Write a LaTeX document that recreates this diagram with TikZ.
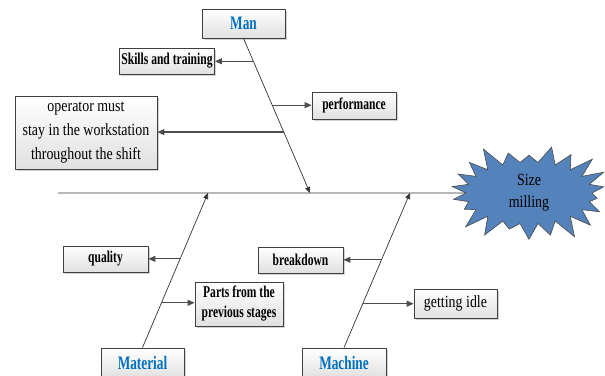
\documentclass[tikz,border=0pt]{standalone}
\usepackage{fontspec}
\setmainfont{Liberation Serif}[FakeStretch=0.82]
\newfontfamily\narrowfont{Liberation Serif}[FakeStretch=0.7]
\usetikzlibrary{shapes.symbols, arrows.meta, calc, shadows}
\definecolor{catblue}{RGB}{0,112,192}
\definecolor{headfill}{RGB}{84,130,186}

\begin{document}
\begin{tikzpicture}[
    x=1pt, y=-1pt,
    cause/.style={rectangle, draw=black!75, line width=0.8pt, top color=white, bottom color=black!12,
      drop shadow={shadow xshift=1.5pt, shadow yshift=-1.5pt, fill=black!35}, inner sep=2pt, align=center},
    group/.style={cause, font=\narrowfont\fontsize{19}{22}\selectfont\bfseries, text=catblue, minimum width=83pt, minimum height=30pt},
    factor/.style={cause, font=\narrowfont\fontsize{16.5}{20}\selectfont\bfseries},
    note/.style={cause, font=\fontsize{17}{24}\selectfont},
    bone/.style={-{Triangle[length=6pt,width=5pt]}, line width=0.7pt, draw=black!80},
    twig/.style={-{Triangle[length=7pt,width=6pt]}, line width=1.2pt, draw=black!70}
  ]
  \clip (0,0) rectangle (605,375);

  % ---- Kopf und Hauptgraete ----
  \coordinate (tail) at (58,193);
  \node[starburst, starburst points=22, starburst point height=22pt, random starburst=3,
    fill=headfill, draw=black!70, line width=0.6pt, minimum width=170pt, minimum height=94pt,
    font=\fontsize{17}{22}\selectfont, align=center] (head) at (529,193) {Size\\milling};
  \draw[line width=0.8pt, black!80] (tail) -- (head.west);

  % ---- Man ----
  \node[group, minimum width=83pt, minimum height=29pt] (man) at (243.5,23.5) {Man};
  \coordinate (manhit) at (310,193);
  \draw[bone] (man.south) -- (manhit);
  \node[factor, minimum width=92pt, minimum height=26pt] (skills) at (167,61) {Skills and training};
  \node[factor, minimum width=84pt, minimum height=27pt] (perf) at (354,105.5) {performance};
  \node[note, minimum width=142pt, minimum height=73pt] (operator) at (86,132.5)
    {operator must\\stay in the workstation\\throughout the shift};
  \coordinate (man1) at ($(man.south)!0.148!(manhit)$);
  \coordinate (man2) at ($(man.south)!0.432!(manhit)$);
  \coordinate (man3) at ($(man.south)!0.606!(manhit)$);
  \draw[twig] (man1) -- (man1 -| skills.east);
  \draw[twig] (man2) -- (man2 -| perf.west);
  \draw[twig] (man3) -- (man3 -| operator.east);

  % ---- Material ----
  \node[group] (material) at (142.5,363) {Material};
  \coordinate (mathit) at (208,193);
  \draw[bone] (material.north) -- (mathit);
  \node[factor, minimum width=85pt, minimum height=26pt] (quality) at (105.5,259) {quality};
  \node[factor, minimum width=88pt, minimum height=44pt] (parts) at (239,304) {Parts from the\\previous stages};
  \coordinate (mat1) at ($(material.north)!0.574!(mathit)$);
  \coordinate (mat2) at ($(material.north)!0.29!(mathit)$);
  \draw[twig] (mat1) -- (mat1 -| quality.east);
  \draw[twig] (mat2) -- (mat2 -| parts.west);

  % ---- Machine ----
  \node[group, minimum width=84pt] (machine) at (344,363) {Machine};
  \coordinate (machit) at (410,193);
  \draw[bone] (machine.north) -- (machit);
  \node[factor, minimum width=85pt, minimum height=26pt] (breakdown) at (300.5,260) {breakdown};
  \node[note, minimum width=83pt, minimum height=29pt] (idle) at (455.5,303.5) {getting idle};
  \coordinate (mac1) at ($(machine.north)!0.568!(machit)$);
  \coordinate (mac2) at ($(machine.north)!0.284!(machit)$);
  \draw[twig] (mac1) -- (mac1 -| breakdown.east);
  \draw[twig] (mac2) -- (mac2 -| idle.west);
\end{tikzpicture}
\end{document}
